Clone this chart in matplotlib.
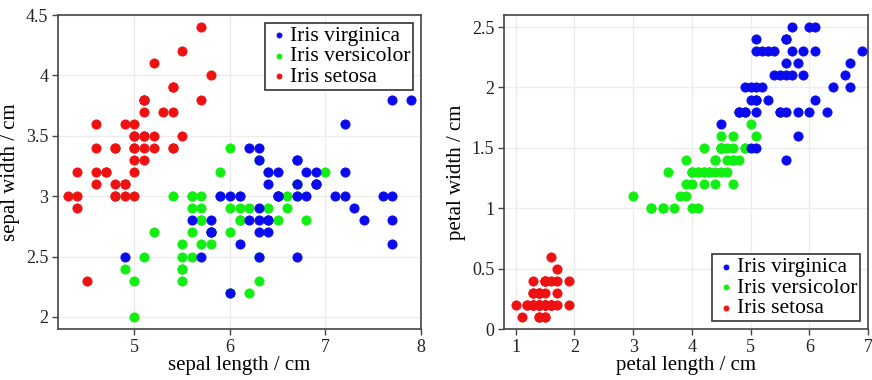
import numpy as np
import matplotlib as mpl

mpl.use("Agg")

import matplotlib.pyplot as plt

# Iris measurements (cm): sepal length, sepal width, petal length, petal width
setosa = np.array([
    [5.1, 3.5, 1.4, 0.2], [4.9, 3.0, 1.4, 0.2], [4.7, 3.2, 1.3, 0.2], [4.6, 3.1, 1.5, 0.2],
    [5.0, 3.6, 1.4, 0.2], [5.4, 3.9, 1.7, 0.4], [4.6, 3.4, 1.4, 0.3], [5.0, 3.4, 1.5, 0.2],
    [4.4, 2.9, 1.4, 0.2], [4.9, 3.1, 1.5, 0.1], [5.4, 3.7, 1.5, 0.2], [4.8, 3.4, 1.6, 0.2],
    [4.8, 3.0, 1.4, 0.1], [4.3, 3.0, 1.1, 0.1], [5.8, 4.0, 1.2, 0.2], [5.7, 4.4, 1.5, 0.4],
    [5.4, 3.9, 1.3, 0.4], [5.1, 3.5, 1.4, 0.3], [5.7, 3.8, 1.7, 0.3], [5.1, 3.8, 1.5, 0.3],
    [5.4, 3.4, 1.7, 0.2], [5.1, 3.7, 1.5, 0.4], [4.6, 3.6, 1.0, 0.2], [5.1, 3.3, 1.7, 0.5],
    [4.8, 3.4, 1.9, 0.2], [5.0, 3.0, 1.6, 0.2], [5.0, 3.4, 1.6, 0.4], [5.2, 3.5, 1.5, 0.2],
    [5.2, 3.4, 1.4, 0.2], [4.7, 3.2, 1.6, 0.2], [4.8, 3.1, 1.6, 0.2], [5.4, 3.4, 1.5, 0.4],
    [5.2, 4.1, 1.5, 0.1], [5.5, 4.2, 1.4, 0.2], [4.9, 3.1, 1.5, 0.2], [5.0, 3.2, 1.2, 0.2],
    [5.5, 3.5, 1.3, 0.2], [4.9, 3.6, 1.4, 0.1], [4.4, 3.0, 1.3, 0.2], [5.1, 3.4, 1.5, 0.2],
    [5.0, 3.5, 1.3, 0.3], [4.5, 2.3, 1.3, 0.3], [4.4, 3.2, 1.3, 0.2], [5.0, 3.5, 1.6, 0.6],
    [5.1, 3.8, 1.9, 0.4], [4.8, 3.0, 1.4, 0.3], [5.1, 3.8, 1.6, 0.2], [4.6, 3.2, 1.4, 0.2],
    [5.3, 3.7, 1.5, 0.2], [5.0, 3.3, 1.4, 0.2],
])

versicolor = np.array([
    [7.0, 3.2, 4.7, 1.4], [6.4, 3.2, 4.5, 1.5], [6.9, 3.1, 4.9, 1.5], [5.5, 2.3, 4.0, 1.3],
    [6.5, 2.8, 4.6, 1.5], [5.7, 2.8, 4.5, 1.3], [6.3, 3.3, 4.7, 1.6], [4.9, 2.4, 3.3, 1.0],
    [6.6, 2.9, 4.6, 1.3], [5.2, 2.7, 3.9, 1.4], [5.0, 2.0, 3.5, 1.0], [5.9, 3.0, 4.2, 1.5],
    [6.0, 2.2, 4.0, 1.0], [6.1, 2.9, 4.7, 1.4], [5.6, 2.9, 3.6, 1.3], [6.7, 3.1, 4.4, 1.4],
    [5.6, 3.0, 4.5, 1.5], [5.8, 2.7, 4.1, 1.0], [6.2, 2.2, 4.5, 1.5], [5.6, 2.5, 3.9, 1.1],
    [5.9, 3.2, 4.8, 1.8], [6.1, 2.8, 4.0, 1.3], [6.3, 2.5, 4.9, 1.5], [6.1, 2.8, 4.7, 1.2],
    [6.4, 2.9, 4.3, 1.3], [6.6, 3.0, 4.4, 1.4], [6.8, 2.8, 4.8, 1.4], [6.7, 3.0, 5.0, 1.7],
    [6.0, 2.9, 4.5, 1.5], [5.7, 2.6, 3.5, 1.0], [5.5, 2.4, 3.8, 1.1], [5.5, 2.4, 3.7, 1.0],
    [5.8, 2.7, 3.9, 1.2], [6.0, 2.7, 5.1, 1.6], [5.4, 3.0, 4.5, 1.5], [6.0, 3.4, 4.5, 1.6],
    [6.7, 3.1, 4.7, 1.5], [6.3, 2.3, 4.4, 1.3], [5.6, 3.0, 4.1, 1.3], [5.5, 2.5, 4.0, 1.3],
    [5.5, 2.6, 4.4, 1.2], [6.1, 3.0, 4.6, 1.4], [5.8, 2.6, 4.0, 1.2], [5.0, 2.3, 3.3, 1.0],
    [5.6, 2.7, 4.2, 1.3], [5.7, 3.0, 4.2, 1.2], [5.7, 2.9, 4.2, 1.3], [6.2, 2.9, 4.3, 1.3],
    [5.1, 2.5, 3.0, 1.1], [5.7, 2.8, 4.1, 1.3],
])

virginica = np.array([
    [6.3, 3.3, 6.0, 2.5], [5.8, 2.7, 5.1, 1.9], [7.1, 3.0, 5.9, 2.1], [6.3, 2.9, 5.6, 1.8],
    [6.5, 3.0, 5.8, 2.2], [7.6, 3.0, 6.6, 2.1], [4.9, 2.5, 4.5, 1.7], [7.3, 2.9, 6.3, 1.8],
    [6.7, 2.5, 5.8, 1.8], [7.2, 3.6, 6.1, 2.5], [6.5, 3.2, 5.1, 2.0], [6.4, 2.7, 5.3, 1.9],
    [6.8, 3.0, 5.5, 2.1], [5.7, 2.5, 5.0, 2.0], [5.8, 2.8, 5.1, 2.4], [6.4, 3.2, 5.3, 2.3],
    [6.5, 3.0, 5.5, 1.8], [7.7, 3.8, 6.7, 2.2], [7.7, 2.6, 6.9, 2.3], [6.0, 2.2, 5.0, 1.5],
    [6.9, 3.2, 5.7, 2.3], [5.6, 2.8, 4.9, 2.0], [7.7, 2.8, 6.7, 2.0], [6.3, 2.7, 4.9, 1.8],
    [6.7, 3.3, 5.7, 2.1], [7.2, 3.2, 6.0, 1.8], [6.2, 2.8, 4.8, 1.8], [6.1, 3.0, 4.9, 1.8],
    [6.4, 2.8, 5.6, 2.1], [7.2, 3.0, 5.8, 1.6], [7.4, 2.8, 6.1, 1.9], [7.9, 3.8, 6.4, 2.0],
    [6.4, 2.8, 5.6, 2.2], [6.3, 2.8, 5.1, 1.5], [6.1, 2.6, 5.6, 1.4], [7.7, 3.0, 6.1, 2.3],
    [6.3, 3.4, 5.6, 2.4], [6.4, 3.1, 5.5, 1.8], [6.0, 3.0, 4.8, 1.8], [6.9, 3.1, 5.4, 2.1],
    [6.7, 3.1, 5.6, 2.4], [6.9, 3.1, 5.1, 2.3], [5.8, 2.7, 5.1, 1.9], [6.8, 3.2, 5.9, 2.3],
    [6.7, 3.3, 5.7, 2.5], [6.7, 3.0, 5.2, 2.3], [6.3, 2.5, 5.0, 1.9], [6.5, 3.0, 5.2, 2.0],
    [6.2, 3.4, 5.4, 2.3], [5.9, 3.0, 5.1, 1.8],
])

# legend order: virginica first, but virginica is also drawn on top
species = [
    ("Iris virginica", virginica, "#0a0aee", 5),
    ("Iris versicolor", versicolor, "#11ee11", 4),
    ("Iris setosa", setosa, "#ee1111", 3),
]

plt.rcParams["font.family"] = ["Liberation Serif", "DejaVu Serif"]
plt.rcParams["axes.edgecolor"] = "#444444"
plt.rcParams["axes.linewidth"] = 1.2
plt.rcParams["xtick.color"] = "#444444"
plt.rcParams["ytick.color"] = "#444444"
plt.rcParams["xtick.labelcolor"] = "#222222"
plt.rcParams["ytick.labelcolor"] = "#222222"

fig = plt.figure(figsize=(8.72, 3.8), dpi=100)
ax1 = fig.add_axes([58 / 872, 1 - 329 / 380, 363 / 872, 314 / 380])
ax2 = fig.add_axes([504 / 872, 1 - 329 / 380, 364 / 872, 314 / 380])


def draw(ax, xi, yi, xlabel, ylabel, loc):
    for name, data, color, z in species:
        ax.scatter(data[:, xi], data[:, yi], s=44, color=color,
                   edgecolors=color, linewidths=0.6, label=name, zorder=z)
    ax.grid(True, color="#ececec", linewidth=1.0, zorder=0)
    ax.set_axisbelow(True)
    ax.tick_params(axis="both", direction="out", length=4, width=1.0,
                   labelsize=13, pad=3)
    ax.set_xlabel(xlabel, fontsize=15, labelpad=0)
    ax.set_ylabel(ylabel, fontsize=15, labelpad=4)
    leg = ax.legend(loc=loc, fontsize=15.5, fancybox=False, framealpha=1,
                    edgecolor="#333333", markerscale=0.55, handletextpad=0.0,
                    handlelength=1.0, labelspacing=0.02, borderpad=0.15,
                    borderaxespad=0.35)
    leg.set_zorder(10)
    leg.get_frame().set_linewidth(1.2)


draw(ax1, 0, 1, "sepal length / cm", "sepal width / cm", "upper right")
ax1.set_xlim(4.2, 8)
ax1.set_ylim(1.9, 4.5)
ax1.set_xticks([5, 6, 7, 8])
ax1.set_yticks([2, 2.5, 3, 3.5, 4, 4.5])
ax1.set_yticklabels(["2", "2.5", "3", "3.5", "4", "4.5"])

draw(ax2, 2, 3, "petal length / cm", "petal width / cm", "lower right")
ax2.set_xlim(0.8, 7)
ax2.set_ylim(0, 2.6)
ax2.set_xticks([1, 2, 3, 4, 5, 6, 7])
ax2.set_yticks([0, 0.5, 1, 1.5, 2, 2.5])
ax2.set_yticklabels(["0", "0.5", "1", "1.5", "2", "2.5"])

fig.savefig("out.png", dpi=100)
